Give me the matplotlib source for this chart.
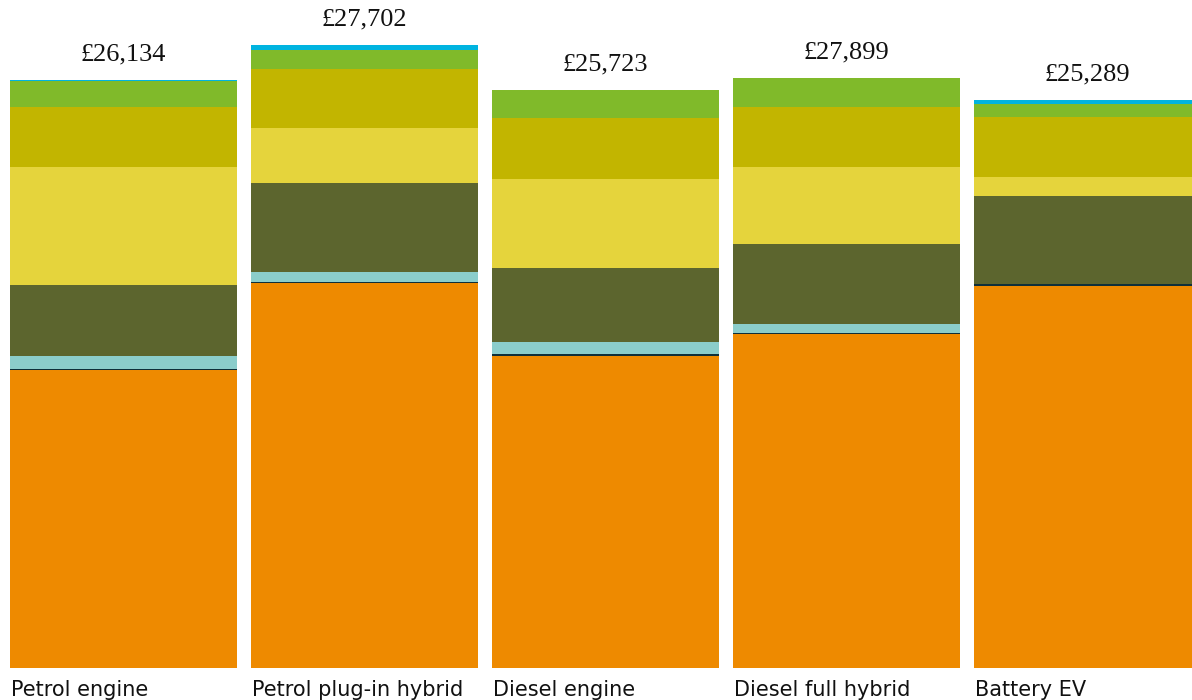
import matplotlib
matplotlib.use("Agg")
import matplotlib.pyplot as plt
import numpy as np

# data (GBP) -------------------------------------------------
cars = ["Petrol engine", "Petrol plug-in hybrid", "Diesel engine",
        "Diesel full hybrid", "Battery EV"]
totals = ["£26,134", "£27,702", "£25,723", "£27,899", "£25,289"]

# stacked segments, bottom to top
orange     = [13250, 17120, 13870, 14850, 16985]
dark_line  = [45, 45, 90, 45, 90]
teal       = [580, 445, 535, 400, 0]
dark_olive = [3155, 3955, 3290, 3555, 3910]
light_yell = [5245, 2445, 3955, 3425, 845]
olive_yell = [2670, 2625, 2710, 2670, 2670]
green      = [1155, 845, 1245, 1290, 580]
blue       = [35, 220, 0, 0, 180]

segments = [orange, dark_line, teal, dark_olive, light_yell, olive_yell, green, blue]
colors = ["#EE8A00", "#0E2F3A", "#8BCDCB", "#5C652E", "#E5D43C",
          "#C2B500", "#80BA2A", "#00B4E0"]

# plot -------------------------------------------------------
fig = plt.figure(figsize=(11.92, 7.0), dpi=100)
ax = fig.add_axes([0, 32/700, 1, 668/700])

x = np.arange(len(cars))
width = 227/241
bottom = np.zeros(len(cars))
for vals, col in zip(segments, colors):
    ax.bar(x, vals, width, bottom=bottom, color=col, linewidth=0)
    bottom += np.array(vals)

ax.set_xlim(-123.5/241, (1192-123.5)/241)
ax.set_ylim(0, 668*44.46)
ax.axis("off")

for i in range(len(cars)):
    ax.annotate(totals[i], xy=(x[i], bottom[i]), xytext=(0, 14),
                textcoords="offset points", ha="center", va="baseline",
                fontsize=19, family="Liberation Serif", color="#111111",
                annotation_clip=False)
    ax.annotate(cars[i], xy=(x[i] - width/2, 0), xytext=(1, -20.5),
                textcoords="offset points", ha="left", va="baseline",
                fontsize=15, family="Liberation Sans Narrow", color="#111111",
                annotation_clip=False)

fig.savefig("out.png", dpi=100)
